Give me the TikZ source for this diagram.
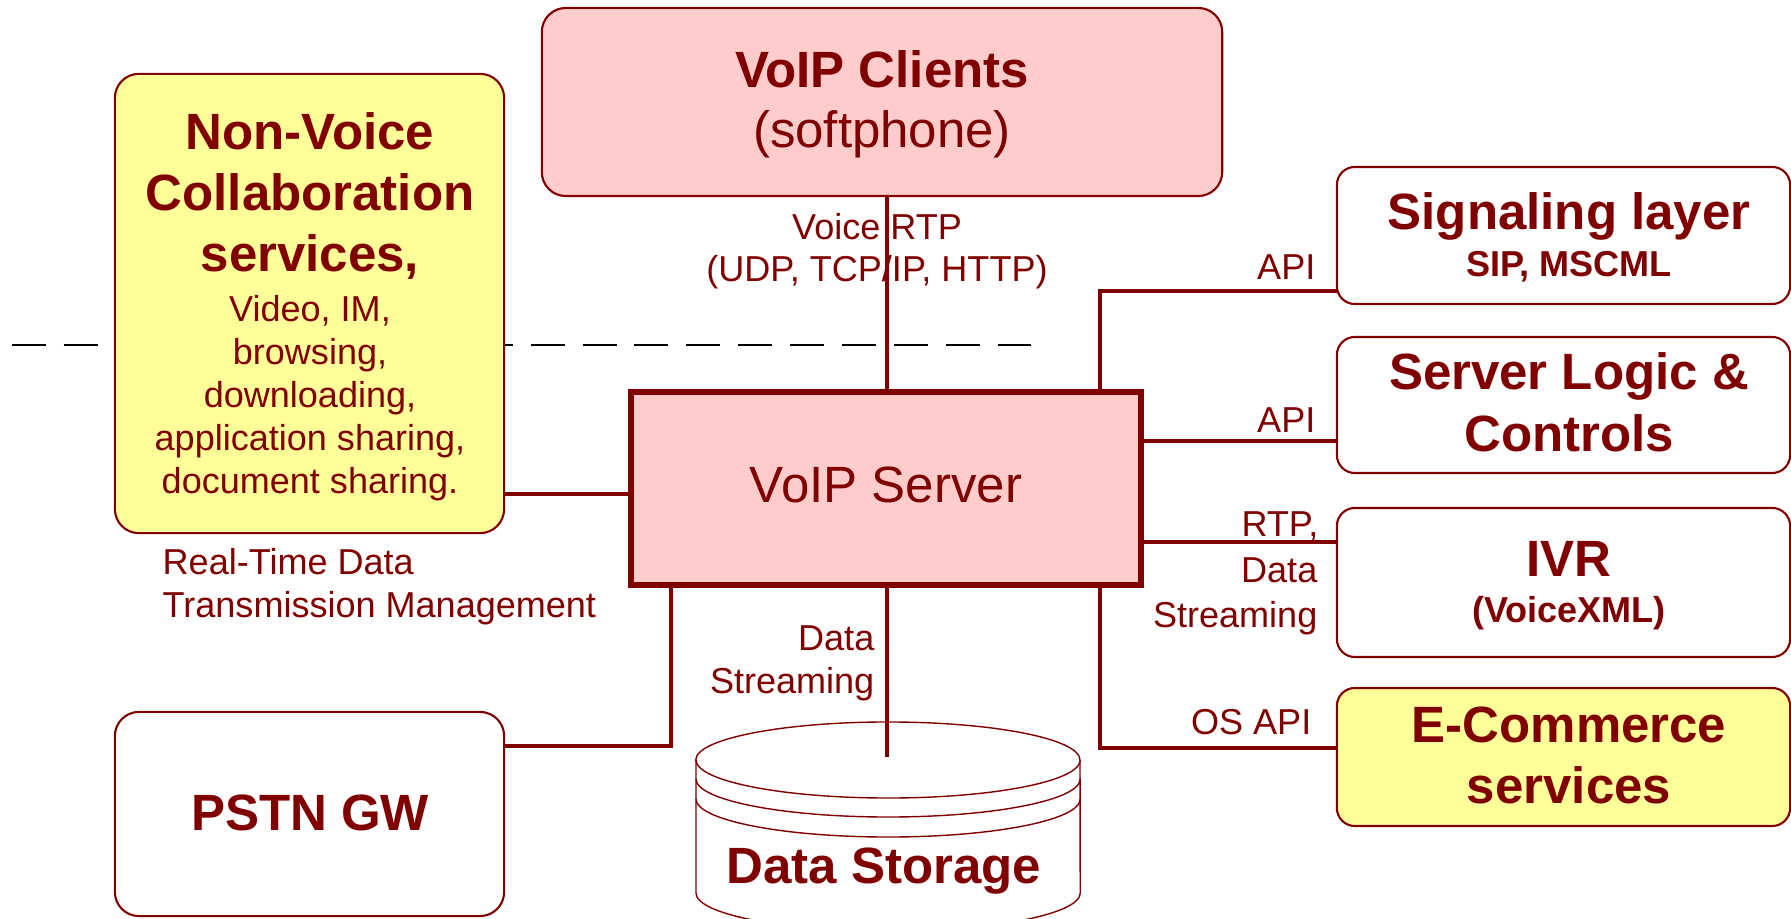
\documentclass[tikz,border=0pt]{standalone}
\usepackage{fontspec}
\setmainfont{Liberation Sans}
\definecolor{vmaroon}{RGB}{128,0,0}
\definecolor{vpink}{RGB}{255,204,204}
\definecolor{vyellow}{RGB}{255,255,153}
\tikzset{
  box/.style={draw=vmaroon, line width=0.6pt, inner sep=0pt, outer sep=0pt},
  leftbox/.style={box, rounded corners=0.24cm},
  rightbox/.style={box, rounded corners=0.18cm, minimum width=4.53cm},
  serverbox/.style={draw=vmaroon, line width=1.7pt, fill=vpink, inner sep=0pt, outer sep=0pt},
  conn/.style={draw=vmaroon, line width=0.95pt},
  cyl/.style={draw=vmaroon, line width=0.4pt, fill=white},
  divider/.style={draw=black, line width=0.6pt, dash pattern=on 0.34cm off 0.1784cm},
  bigb/.style={text=vmaroon, inner sep=0pt, anchor=base, font=\fontsize{14.5pt}{17pt}\selectfont\bfseries},
  bigr/.style={text=vmaroon, inner sep=0pt, anchor=base, font=\fontsize{14.5pt}{17pt}\selectfont},
  smallr/.style={text=vmaroon, inner sep=0pt, anchor=base, font=\fontsize{10.25pt}{12pt}\selectfont},
  smallb/.style={text=vmaroon, inner sep=0pt, anchor=base, font=\fontsize{10.25pt}{12pt}\selectfont\bfseries},
}
\begin{document}
\begin{tikzpicture}[x=0.01cm, y=-0.01cm]
\useasboundingbox (0,0) rectangle (1791,919);

% dashed boundary line, behind the boxes
\coordinate (dashL) at (12,345);
\coordinate (dashR) at (1031,345);
\draw[divider] (dashL) -- (dashR);

% boxes
\node[leftbox, fill=vpink, minimum width=6.80cm, minimum height=1.88cm] (clients) at (882,102) {};
\node[leftbox, fill=vyellow, minimum width=3.89cm, minimum height=4.59cm] (nonvoice) at (309.5,303.5) {};
\node[leftbox, fill=white, minimum width=3.89cm, minimum height=2.04cm] (pstn) at (309.5,814) {};
\node[serverbox, minimum width=5.10cm, minimum height=1.93cm] (server) at (886,488.5) {};
\node[rightbox, fill=white, minimum height=1.37cm] (sig) at (1563.5,235.5) {};
\node[rightbox, fill=white, minimum height=1.36cm] (logic) at (1563.5,405) {};
\node[rightbox, fill=white, minimum height=1.49cm] (ivr) at (1563.5,582.5) {};
\node[rightbox, fill=vyellow, minimum height=1.38cm] (ecom) at (1563.5,757) {};

% data storage cylinder
\filldraw[cyl] (696,760) -- (696,893)
  arc[start angle=180, end angle=360, x radius=1.92cm, y radius=0.38cm]
  -- (1080,760)
  arc[start angle=0, end angle=180, x radius=1.92cm, y radius=0.38cm] -- cycle;
\draw[cyl, fill=none] (696,760) arc[start angle=180, end angle=360, x radius=1.92cm, y radius=0.38cm];
\draw[cyl, fill=none] (696,779) arc[start angle=180, end angle=360, x radius=1.92cm, y radius=0.38cm];
\draw[cyl, fill=none] (696,799) arc[start angle=180, end angle=360, x radius=1.92cm, y radius=0.38cm];

% connector routing points
\coordinate (vx) at (887,0);
\coordinate (hNV) at (0,494);
\coordinate (jP) at (671,746);
\coordinate (dsEnd) at (887,757);
\coordinate (jS) at (1100,291);
\coordinate (hL) at (0,441);
\coordinate (hI) at (0,542);
\coordinate (jE) at (1100,748);

% connectors
\draw[conn] (clients.south -| vx) -- (server.north -| vx);
\draw[conn] (nonvoice.east |- hNV) -- (server.west |- hNV);
\draw[conn] (pstn.east |- jP) -- (jP) -- (jP |- server.south);
\draw[conn] (server.south -| vx) -- (dsEnd);
\draw[conn] (sig.west |- jS) -- (jS) -- (jS |- server.north);
\draw[conn] (server.east |- hL) -- (logic.west |- hL);
\draw[conn] (server.east |- hI) -- (ivr.west |- hI);
\draw[conn] (jS |- server.south) -- (jE) -- (jE -| ecom.west);

% box texts
\node[bigb] (clientsA) at (882,88) {VoIP Clients};
\node[bigr] (clientsB) at (882,148) {(softphone)};

\node[bigb] (nvA) at (310,150) {Non-Voice};
\node[bigb] (nvB) at (310,211) {Collaboration};
\node[bigb] (nvC) at (310,272) {services,};
\node[smallr] (nvD) at (310,322) {Video, IM,};
\node[smallr] (nvE) at (310,365) {browsing,};
\node[smallr] (nvF) at (310,408) {downloading,};
\node[smallr] (nvG) at (310,451) {application sharing,};
\node[smallr] (nvH) at (310,494) {document sharing.};

\node[bigr] (serverA) at (886,503) {VoIP Server};
\node[bigb] (pstnA) at (310,830) {PSTN GW};
\node[bigb] (storeA) at (884,883) {Data Storage};

\node[bigb] (sigA) at (1569,230) {Signaling layer};
\node[smallb] (sigB) at (1569,277) {SIP, MSCML};
\node[bigb] (logicA) at (1569,390) {Server Logic \&};
\node[bigb] (logicB) at (1569,452) {Controls};
\node[bigb] (ivrA) at (1569,577) {IVR};
\node[smallb] (ivrB) at (1569,623) {(VoiceXML)};
\node[bigb] (ecomA) at (1569,742) {E-Commerce};
\node[bigb] (ecomB) at (1569,803) {services};

% connector labels
\node[smallr] (lVoiceA) at (877,240) {Voice RTP};
\node[smallr] (lVoiceB) at (877,282) {(UDP, TCP/IP, HTTP)};
\node[smallr, anchor=base west] (lRtA) at (162,575) {Real-Time Data};
\node[smallr, anchor=base west] (lRtB) at (162,617) {Transmission Management};
\node[smallr, anchor=base east] (lDsA) at (875,651) {Data};
\node[smallr, anchor=base east] (lDsB) at (875,694) {Streaming};
\node[smallr, anchor=base east] (lApiA) at (1316,280) {API};
\node[smallr, anchor=base east] (lApiB) at (1316,433) {API};
\node[smallr, anchor=base east] (lRtpA) at (1319,537) {RTP,};
\node[smallr, anchor=base east] (lRtpB) at (1318,583) {Data};
\node[smallr, anchor=base east] (lRtpC) at (1318,627) {Streaming};
\node[smallr, anchor=base east] (lOs) at (1312,735) {OS API};
\end{tikzpicture}
\end{document}
